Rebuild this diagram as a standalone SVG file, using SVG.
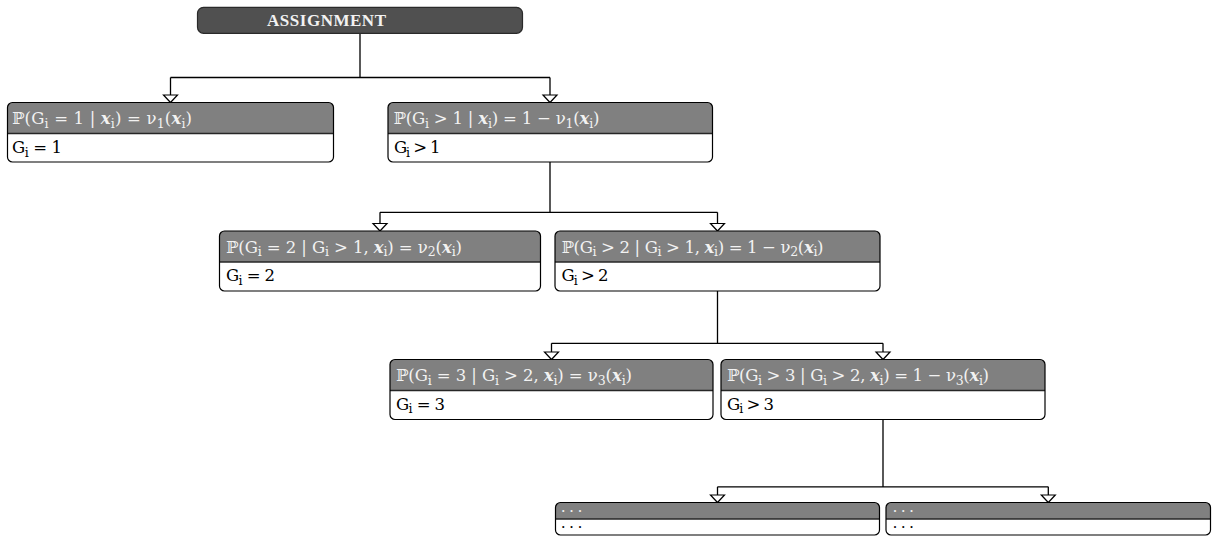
<svg xmlns="http://www.w3.org/2000/svg" width="1212" height="536" viewBox="0 0 1212 536">
<style>
.ol{fill:none;stroke:#000;stroke-width:1.2}
.bg{fill:#fff}
.hd{fill:#808080}
.sep{fill:none;stroke:#262626;stroke-width:1.4}
.ht{font-family:"DejaVu Serif","Liberation Serif",serif;font-size:16.5px;fill:#f2f2f2}
.bt{font-family:"DejaVu Serif","Liberation Serif",serif;font-size:16.5px;fill:#000}
.s{font-size:12.5px}
.x{font-weight:bold;font-style:italic}
.dh{font-family:"Liberation Serif",serif;font-size:12px;font-weight:bold;letter-spacing:5.3px;fill:#f2f2f2}
.db{font-family:"Liberation Serif",serif;font-size:12px;font-weight:bold;letter-spacing:5.3px;fill:#000}
.cn{fill:none;stroke:#000;stroke-width:1.3}
.br{fill:none;stroke:#000;stroke-width:1.3;marker-end:url(#ar)}
</style>
<defs>
<marker id="ar" markerUnits="userSpaceOnUse" viewBox="0 0 16 10" markerWidth="16" markerHeight="10" refX="8" refY="9" orient="0" overflow="visible">
<path d="M1,1.5 H15 L8,9 Z" fill="#fff" stroke="#000" stroke-width="1.2" stroke-linejoin="miter"/>
</marker>
</defs>
<rect width="1212" height="536" fill="#fff"/>

<g id="connectors">
<path class="cn" d="M360,33.3 V77.5 M170.5,77.5 H550"/>
<path class="br" d="M170.5,77.5 V102.5"/>
<path class="br" d="M550,77.5 V102.5"/>
<path class="cn" d="M550,162 V212.3 M380,212.3 H717.5"/>
<path class="br" d="M380,212.3 V231"/>
<path class="br" d="M717.5,212.3 V231"/>
<path class="cn" d="M717.5,291 V343.3 M551.5,343.3 H883"/>
<path class="br" d="M551.5,343.3 V359.5"/>
<path class="br" d="M883,343.3 V359.5"/>
<path class="cn" d="M883,419.5 V486.8 M717.5,486.8 H1048.3"/>
<path class="br" d="M717.5,486.8 V502.5"/>
<path class="br" d="M1048.3,486.8 V502.5"/>
</g>

<g id="assignment">
<rect x="197.5" y="7.3" width="325" height="26" rx="6" fill="#505050" stroke="#2a2a2a" stroke-width="1.2"/>
<text x="267" y="26" font-family="Liberation Serif, serif" font-size="17" font-weight="bold" fill="#f2f2f2" textLength="119">ASSIGNMENT</text>
</g>

<g id="nodeA">
<rect class="bg" x="7.5" y="102.5" width="326" height="59.5" rx="5"/>
<path class="hd" d="M7.5,133.5 V107.5 A5,5 0 0 1 12.5,102.5 H328.5 A5,5 0 0 1 333.5,107.5 V133.5 Z"/>
<path class="sep" d="M7.5,133.5 H333.5"/>
<rect class="ol" x="7.5" y="102.5" width="326" height="59.5" rx="5"/>
<text class="ht" x="12" y="124" textLength="180">ℙ(G<tspan class="s" dy="3.5">i</tspan><tspan dy="-3.5"> = 1 | </tspan><tspan class="x">x</tspan><tspan class="s" dy="3.5">i</tspan><tspan dy="-3.5">) = ν</tspan><tspan class="s" dy="3.5">1</tspan><tspan dy="-3.5">(</tspan><tspan class="x">x</tspan><tspan class="s" dy="3.5">i</tspan><tspan dy="-3.5">)</tspan></text>
<text class="bt" x="12" y="153" textLength="50">G<tspan class="s" dy="3.5">i</tspan><tspan dy="-3.5"> = 1</tspan></text>
</g>

<g id="nodeB">
<rect class="bg" x="388" y="102.5" width="324.5" height="59.5" rx="5"/>
<path class="hd" d="M388,133.5 V107.5 A5,5 0 0 1 393,102.5 H707.5 A5,5 0 0 1 712.5,107.5 V133.5 Z"/>
<path class="sep" d="M388,133.5 H712.5"/>
<rect class="ol" x="388" y="102.5" width="324.5" height="59.5" rx="5"/>
<text class="ht" x="393.5" y="124" textLength="206">ℙ(G<tspan class="s" dy="3.5">i</tspan><tspan dy="-3.5"> &gt; 1 | </tspan><tspan class="x">x</tspan><tspan class="s" dy="3.5">i</tspan><tspan dy="-3.5">) = 1 − ν</tspan><tspan class="s" dy="3.5">1</tspan><tspan dy="-3.5">(</tspan><tspan class="x">x</tspan><tspan class="s" dy="3.5">i</tspan><tspan dy="-3.5">)</tspan></text>
<text class="bt" x="394" y="153" textLength="46.5">G<tspan class="s" dy="3.5">i</tspan><tspan dy="-3.5"> &gt; 1</tspan></text>
</g>

<g id="nodeC">
<rect class="bg" x="219.5" y="231" width="321" height="60" rx="5"/>
<path class="hd" d="M219.5,262 V236 A5,5 0 0 1 224.5,231 H535.5 A5,5 0 0 1 540.5,236 V262 Z"/>
<path class="sep" d="M219.5,262 H540.5"/>
<rect class="ol" x="219.5" y="231" width="321" height="60" rx="5"/>
<text class="ht" x="226" y="252.5" textLength="236">ℙ(G<tspan class="s" dy="3.5">i</tspan><tspan dy="-3.5"> = 2 | G</tspan><tspan class="s" dy="3.5">i</tspan><tspan dy="-3.5"> &gt; 1, </tspan><tspan class="x">x</tspan><tspan class="s" dy="3.5">i</tspan><tspan dy="-3.5">) = ν</tspan><tspan class="s" dy="3.5">2</tspan><tspan dy="-3.5">(</tspan><tspan class="x">x</tspan><tspan class="s" dy="3.5">i</tspan><tspan dy="-3.5">)</tspan></text>
<text class="bt" x="226" y="281" textLength="49">G<tspan class="s" dy="3.5">i</tspan><tspan dy="-3.5"> = 2</tspan></text>
</g>

<g id="nodeD">
<rect class="bg" x="555" y="231" width="325" height="60" rx="5"/>
<path class="hd" d="M555,262 V236 A5,5 0 0 1 560,231 H875 A5,5 0 0 1 880,236 V262 Z"/>
<path class="sep" d="M555,262 H880"/>
<rect class="ol" x="555" y="231" width="325" height="60" rx="5"/>
<text class="ht" x="561.5" y="252.5" textLength="262">ℙ(G<tspan class="s" dy="3.5">i</tspan><tspan dy="-3.5"> &gt; 2 | G</tspan><tspan class="s" dy="3.5">i</tspan><tspan dy="-3.5"> &gt; 1, </tspan><tspan class="x">x</tspan><tspan class="s" dy="3.5">i</tspan><tspan dy="-3.5">) = 1 − ν</tspan><tspan class="s" dy="3.5">2</tspan><tspan dy="-3.5">(</tspan><tspan class="x">x</tspan><tspan class="s" dy="3.5">i</tspan><tspan dy="-3.5">)</tspan></text>
<text class="bt" x="561.5" y="281" textLength="47">G<tspan class="s" dy="3.5">i</tspan><tspan dy="-3.5"> &gt; 2</tspan></text>
</g>

<g id="nodeE">
<rect class="bg" x="390" y="359.5" width="323" height="60" rx="5"/>
<path class="hd" d="M390,390.5 V364.5 A5,5 0 0 1 395,359.5 H708 A5,5 0 0 1 713,364.5 V390.5 Z"/>
<path class="sep" d="M390,390.5 H713"/>
<rect class="ol" x="390" y="359.5" width="323" height="60" rx="5"/>
<text class="ht" x="396" y="381" textLength="236">ℙ(G<tspan class="s" dy="3.5">i</tspan><tspan dy="-3.5"> = 3 | G</tspan><tspan class="s" dy="3.5">i</tspan><tspan dy="-3.5"> &gt; 2, </tspan><tspan class="x">x</tspan><tspan class="s" dy="3.5">i</tspan><tspan dy="-3.5">) = ν</tspan><tspan class="s" dy="3.5">3</tspan><tspan dy="-3.5">(</tspan><tspan class="x">x</tspan><tspan class="s" dy="3.5">i</tspan><tspan dy="-3.5">)</tspan></text>
<text class="bt" x="396" y="409.5" textLength="49">G<tspan class="s" dy="3.5">i</tspan><tspan dy="-3.5"> = 3</tspan></text>
</g>

<g id="nodeF">
<rect class="bg" x="721" y="359.5" width="324" height="60" rx="5"/>
<path class="hd" d="M721,390.5 V364.5 A5,5 0 0 1 726,359.5 H1040 A5,5 0 0 1 1045,364.5 V390.5 Z"/>
<path class="sep" d="M721,390.5 H1045"/>
<rect class="ol" x="721" y="359.5" width="324" height="60" rx="5"/>
<text class="ht" x="727" y="381" textLength="262">ℙ(G<tspan class="s" dy="3.5">i</tspan><tspan dy="-3.5"> &gt; 3 | G</tspan><tspan class="s" dy="3.5">i</tspan><tspan dy="-3.5"> &gt; 2, </tspan><tspan class="x">x</tspan><tspan class="s" dy="3.5">i</tspan><tspan dy="-3.5">) = 1 − ν</tspan><tspan class="s" dy="3.5">3</tspan><tspan dy="-3.5">(</tspan><tspan class="x">x</tspan><tspan class="s" dy="3.5">i</tspan><tspan dy="-3.5">)</tspan></text>
<text class="bt" x="727" y="409.5" textLength="47">G<tspan class="s" dy="3.5">i</tspan><tspan dy="-3.5"> &gt; 3</tspan></text>
</g>

<g id="nodeG">
<rect class="bg" x="555.5" y="502.5" width="324" height="32.5" rx="5"/>
<path class="hd" d="M555.5,519 V507.5 A5,5 0 0 1 560.5,502.5 H874.5 A5,5 0 0 1 879.5,507.5 V519 Z"/>
<path class="sep" d="M555.5,519 H879.5"/>
<rect class="ol" x="555.5" y="502.5" width="324" height="32.5" rx="5"/>
<text class="dh" x="561.8" y="511.5">...</text>
<text class="db" x="561.8" y="528">...</text>
</g>

<g id="nodeH">
<rect class="bg" x="886" y="502.5" width="324.5" height="32.5" rx="5"/>
<path class="hd" d="M886,519 V507.5 A5,5 0 0 1 891,502.5 H1205.5 A5,5 0 0 1 1210.5,507.5 V519 Z"/>
<path class="sep" d="M886,519 H1210.5"/>
<rect class="ol" x="886" y="502.5" width="324.5" height="32.5" rx="5"/>
<text class="dh" x="893.5" y="511.5">...</text>
<text class="db" x="893.5" y="528">...</text>
</g>
</svg>
